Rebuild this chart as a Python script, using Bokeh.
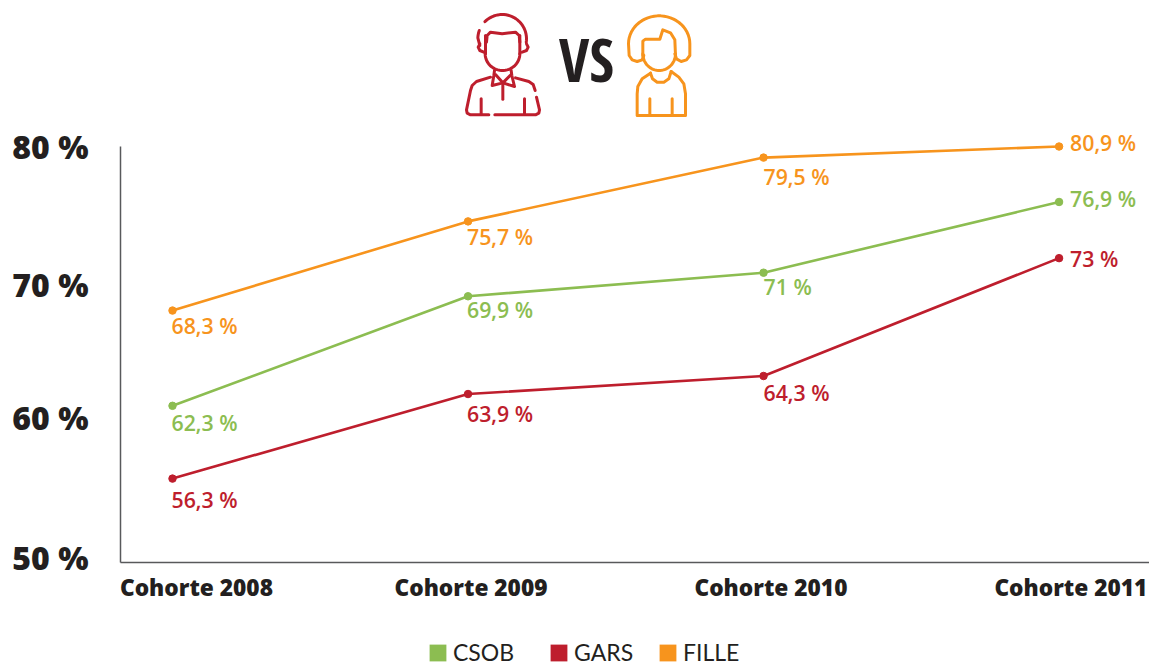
from bokeh.plotting import figure
from bokeh.layouts import column
from bokeh.models import Range1d, FixedTicker, Legend, LegendItem, ColumnDataSource
from bokeh.core.properties import value
from bokeh.embed import file_html
from bokeh.resources import INLINE
import numpy as np

RED, GREEN, ORANGE = "#BE1E2D", "#8CBD51", "#F7941D"
DARK = "#231F20"

categories = ["Cohorte 2008", "Cohorte 2009", "Cohorte 2010", "Cohorte 2011"]
csob = [61.3, 69.2, 70.9, 76.0]
gars = [56.05, 62.15, 63.45, 71.95]
fille = [68.17, 74.6, 79.2, 80.0]
csob_labels = ["62,3 %", "69,9 %", "71 %", "76,9 %"]
gars_labels = ["56,3 %", "63,9 %", "64,3 %", "73 %"]
fille_labels = ["68,3 %", "75,7 %", "79,5 %", "80,9 %"]
y_tick_labels = ["50 %", "60 %", "70 %", "80 %"]

LABEL_FONT = "Open Sans SemiBold"
HEAVY_FONT = "Open Sans ExtraBold"
LEGEND_FONT = "Lato"

# ---------- icon strip ----------
def arc(cx, cy, rx, ry, a0, a1, n=30):
    t = np.radians(np.linspace(a0, a1, n))
    return list(zip(cx + rx * np.cos(t), cy + ry * np.sin(t)))

man = [
    arc(185, 115, 73, 73, -135, 8),
    arc(185, 115, 73, 73, -160, -178, 6) + [(118, 135)],
    [(118, 130), (113, 140), (118, 150), (130, 155)],
    [(258, 130), (263, 140), (258, 150), (245, 155)],
    [(138, 125), (140, 105), (150, 95), (185, 100), (225, 95), (236, 105), (238, 125)],
    [(135, 105), (135, 160)],
    arc(186, 160, 52, 50, 0, 180),
    [(238, 105), (238, 160)],
    [(162, 210), (160, 225), (155, 255), (187, 247), (165, 222)],
    [(212, 210), (214, 225), (222, 258), (187, 247), (212, 222)],
    [(187, 247), (187, 296)],
    [(150, 230), (108, 243), (95, 255), (90, 270), (78, 328), (80, 338), (90, 343), (145, 343)],
    [(163, 343), (285, 343), (295, 338), (297, 328), (288, 290)],
    [(284, 270), (278, 252), (265, 243), (225, 232)],
    [(122, 295), (122, 340)],
    [(252, 295), (252, 340)],
]
woman = [
    [(610, 165), (605, 178), (590, 183), (575, 178), (566, 165), (564, 130)] + arc(656, 130, 92, 84, 180, 360)
    + [(748, 165), (738, 178), (722, 183), (708, 175), (703, 160)],
    [(607, 165), (607, 122), (615, 116), (658, 116), (667, 88), (690, 97), (703, 118), (705, 165)],
    arc(656, 160, 49, 50, 0, 180),
    [(630, 218), (636, 235), (650, 245), (670, 245), (685, 235), (692, 213)],
    [(630, 218), (605, 235), (592, 258), (590, 280), (590, 345), (735, 345), (735, 280), (730, 250), (715, 230), (692, 213)],
    [(628, 295), (628, 345)],
    [(695, 295), (695, 345)],
]

top = figure(width=1149, height=118, x_range=Range1d(0, 1149), y_range=Range1d(118, 0),
             toolbar_location=None, output_backend="svg", min_border=0, outline_line_color=None,
             frame_align=False)
top.axis.visible = False
top.grid.visible = False
for icon, colour in ((man, RED), (woman, ORANGE)):
    xs = [[440 + q[0] / 3 for q in path] for path in icon]
    ys = [[q[1] / 3 for q in path] for path in icon]
    top.multi_line(xs, ys, line_color=colour, line_width=3, line_cap="round", line_join="round")
top.text([586], [58], text=["VS"], text_font=value("Open Sans Condensed"), text_font_style="bold",
         text_font_size="60px", text_color=DARK, text_align="center", text_baseline="middle")

# ---------- chart ----------
x_pos = [0, 1, 2, 3]
p = figure(width=1149, height=502, toolbar_location=None, output_backend="svg",
           x_range=Range1d(-0.176, 3.306), y_range=Range1d(50, 82.02),
           min_border_left=120, min_border_right=0, min_border_top=0, min_border_bottom=58,
           outline_line_color=None, frame_align=False)
p.grid.visible = False

x_label_ticks = [0.081, 1.01, 2.025, 3.04]
p.xaxis.ticker = FixedTicker(ticks=x_label_ticks)
p.xaxis.major_label_overrides = dict(zip(x_label_ticks, categories))
y_label_ticks = [50.37, 60.45, 70.04, 80.0]
p.yaxis.ticker = FixedTicker(ticks=y_label_ticks)
p.yaxis.major_label_overrides = dict(zip(y_label_ticks, y_tick_labels))
p.yaxis.bounds = (50, 80)

for ax, size, standoff in ((p.xaxis, "22.7px", 3), (p.yaxis, "32px", 26)):
    ax.axis_line_color = "#58595B"
    ax.axis_line_width = 1.5
    ax.major_tick_line_color = None
    ax.minor_tick_line_color = None
    ax.major_label_text_font = HEAVY_FONT
    ax.major_label_text_font_size = size
    ax.major_label_text_color = DARK
    ax.major_label_standoff = standoff

y_offsets = {
    "csob": [17, 13, 13.5, -3],
    "gars": [21, 19, 17, 0],
    "fille": [15, 15, 19, -4],
}
x_offsets = [-1, -1, 0, 11]
series = [
    ("CSOB", csob, csob_labels, GREEN, y_offsets["csob"], 427),
    ("GARS", gars, gars_labels, RED, y_offsets["gars"], 548),
    ("FILLE", fille, fille_labels, ORANGE, y_offsets["fille"], 657),
]

# ---------- legend strip ----------
foot = figure(width=1149, height=45, x_range=Range1d(0, 1149), y_range=Range1d(0, 45),
              toolbar_location=None, output_backend="svg", min_border=0, outline_line_color=None,
              frame_align=False)
foot.axis.visible = False
foot.grid.visible = False

for name, vals, labels, colour, yoff, leg_x in series:
    src = ColumnDataSource(dict(x=x_pos, y=vals, t=labels, xo=x_offsets, yo=yoff))
    p.line("x", "y", source=src, line_color=colour, line_width=2.6)
    p.scatter("x", "y", source=src, size=7.5, fill_color=colour, line_color=colour)
    p.text("x", "y", text="t", x_offset="xo", y_offset="yo", source=src, text_color=colour,
           text_font=value(LABEL_FONT), text_font_size="21.3px",
           text_align="left", text_baseline="middle")
    swatch = foot.quad(left=[-20], right=[-10], top=[-10], bottom=[-20], fill_color=colour, line_color=None)
    leg = Legend(items=[LegendItem(label=name, renderers=[swatch])], location=(leg_x, -1),
                 glyph_width=21, glyph_height=21, label_standoff=5, padding=0, margin=0,
                 border_line_color=None, background_fill_alpha=0,
                 label_text_font=LEGEND_FONT, label_text_font_size="23px", label_text_color=DARK,
                 label_height=17)
    foot.add_layout(leg, "center")

layout = column(top, p, foot, spacing=0)
open("out.html", "w").write(file_html(layout, INLINE))
